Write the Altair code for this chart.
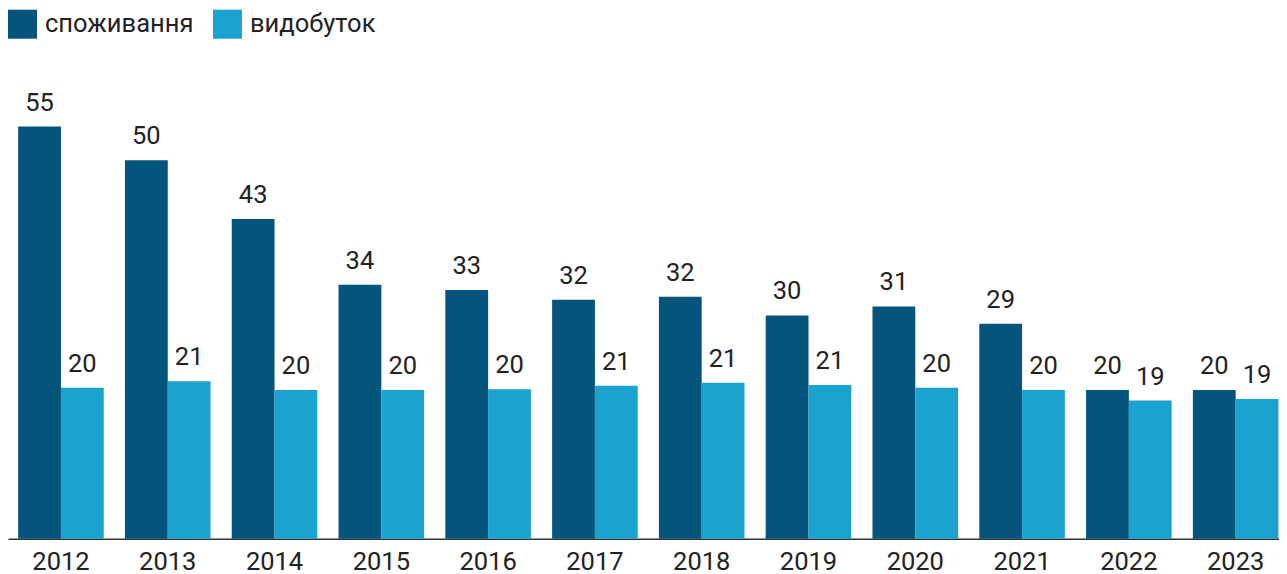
import altair as alt
import pandas as pd

years = ["2012", "2013", "2014", "2015", "2016", "2017", "2018", "2019", "2020", "2021", "2022", "2023"]
series_names = ["споживання", "видобуток"]
consumption = [55.2, 50.7, 42.8, 34.0, 33.3, 32.0, 32.4, 29.9, 31.1, 28.8, 19.9, 19.9]
production = [20.2, 21.1, 19.9, 19.9, 20.0, 20.5, 20.9, 20.6, 20.2, 19.9, 18.5, 18.7]
consumption_labels = ["55", "50", "43", "34", "33", "32", "32", "30", "31", "29", "20", "20"]
production_labels = ["20", "21", "20", "20", "20", "21", "21", "21", "20", "20", "19", "19"]
colors = ["#04547c", "#1ba2cf"]

rows = []
for i, y in enumerate(years):
    rows.append({"year": y, "series": series_names[0], "value": consumption[i], "label": consumption_labels[i]})
    rows.append({"year": y, "series": series_names[1], "value": production[i], "label": production_labels[i]})
df = pd.DataFrame(rows)

FONT = "Roboto"
FS = 25.5

x_enc = alt.X("year:N", sort=years, title=None,
              scale=alt.Scale(paddingInner=0.1985, paddingOuter=0.05, align=0.95),
              axis=alt.Axis(labelAngle=0, ticks=False, labelFontSize=FS, labelFont=FONT,
                            labelColor="#222222", labelPadding=11, domainColor="#333333",
                            domainWidth=1.5, grid=False))
xo_enc = alt.XOffset("series:N", sort=series_names,
                     scale=alt.Scale(paddingInner=0, paddingOuter=0))
y_enc = alt.Y("value:Q", scale=alt.Scale(domain=[0, 60], nice=False), axis=None)

bars = alt.Chart(df).mark_bar().encode(
    x=x_enc,
    xOffset=xo_enc,
    y=y_enc,
    color=alt.Color("series:N", sort=series_names,
                    scale=alt.Scale(domain=series_names, range=colors),
                    legend=alt.Legend(orient="none", legendX=0, legendY=-81, direction="horizontal",
                                      title=None, symbolType="square", symbolSize=841,
                                      symbolStrokeWidth=0, symbolOpacity=1,
                                      labelFontSize=FS, labelFont=FONT, labelColor="#222222",
                                      labelOffset=8, columnPadding=19, padding=0, labelLimit=300)),
)

labels = alt.Chart(df).mark_text(dy=-16, baseline="alphabetic", fontSize=FS, font=FONT,
                                 color="#222222").encode(
    x=alt.X("year:N", sort=years),
    xOffset=alt.XOffset("series:N", sort=series_names),
    y=alt.Y("value:Q"),
    text="label:N",
)

chart = (bars + labels).properties(
    width=1271, height=448,
    autosize=alt.AutoSizeParams(type="none"),
    padding={"top": 82.7, "left": 0, "right": 0, "bottom": 40},
).configure_view(stroke=None)

chart.save("out.html", embed_options={"renderer": "svg", "actions": False})
